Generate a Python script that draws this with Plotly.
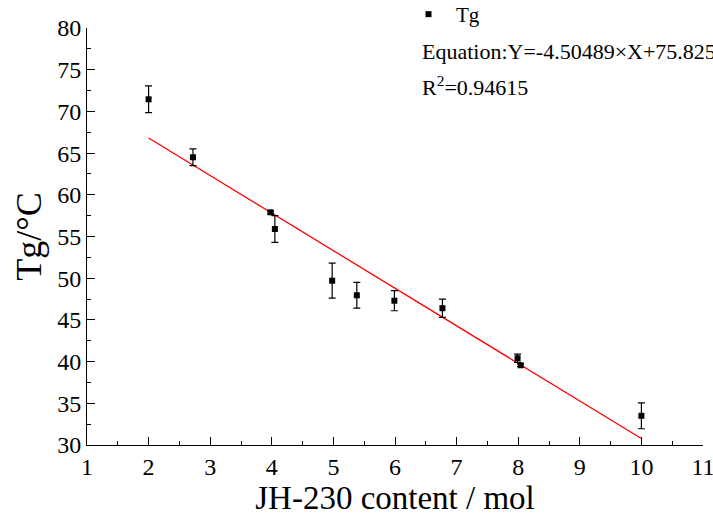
import plotly.graph_objects as go

# Data
content_mol = [2.0, 2.72, 3.98, 4.05, 4.98, 5.38, 5.99, 6.77, 7.99, 8.04, 10.0]
tg_values = [71.45, 64.5, 57.9, 55.9, 49.7, 47.95, 47.3, 46.4, 40.4, 39.56, 33.5]
tg_errors = [1.6, 1.0, 0.15, 1.6, 2.1, 1.55, 1.2, 1.1, 0.5, 0.15, 1.55]
fit_slope = -4.50489
fit_intercept = 75.825
fit_r2 = 0.94615
fit_x_range = [2.0, 10.0]
x_ticks = [1, 2, 3, 4, 5, 6, 7, 8, 9, 10, 11]
y_ticks = [30, 35, 40, 45, 50, 55, 60, 65, 70, 75, 80]

FONT = "Liberation Serif, Times New Roman, serif"

fit_y = [fit_slope * x + fit_intercept for x in fit_x_range]

fig = go.Figure()
fig.add_trace(go.Scatter(
    x=fit_x_range, y=fit_y, mode="lines",
    line=dict(color="#ff0000", width=1.3),
    showlegend=False, hoverinfo="skip",
))
fig.add_trace(go.Scatter(
    x=content_mol, y=tg_values, mode="markers", name="Tg",
    marker=dict(symbol="square", size=6, color="black"),
    error_y=dict(type="data", array=tg_errors, visible=True,
                 color="black", thickness=1.2, width=3.5),
))

fig.add_annotation(
    xref="paper", yref="paper", x=(420 - 87) / 616, y=1 + (28 - 52) / 417,
    xanchor="left", yanchor="middle", showarrow=False,
    text=f"Equation:Y={fit_slope}×X+{fit_intercept}",
    font=dict(family=FONT, size=22, color="black"),
)
fig.add_annotation(
    xref="paper", yref="paper", x=(420 - 87) / 616, y=1 + (28 - 86) / 417,
    xanchor="left", yanchor="middle", showarrow=False,
    text=f"R<sup>2</sup>={fit_r2}",
    font=dict(family=FONT, size=22, color="black"),
)

fig.update_layout(
    width=713, height=520,
    margin=dict(l=87, r=10, t=28, b=75, autoexpand=False),
    paper_bgcolor="white", plot_bgcolor="white",
    font=dict(family=FONT, color="black"),
    legend=dict(
        x=(401 - 87) / 616, y=1 + (28 + 6) / 417,
        xanchor="left", yanchor="top",
        bgcolor="rgba(0,0,0,0)",
        font=dict(family=FONT, size=21, color="black"),
        itemwidth=45,
    ),
    xaxis=dict(
        range=[1, 11], tickvals=x_ticks, ticktext=[str(v) for v in x_ticks],
        ticklabeloverflow="allow", automargin=False,
        showgrid=False, zeroline=False, showline=True, linecolor="black", linewidth=1,
        ticks="inside", ticklen=8, tickwidth=1, tickcolor="black",
        minor=dict(dtick=0.5, ticks="inside", ticklen=4, tickcolor="black", showgrid=False),
        tickfont=dict(family=FONT, size=24, color="black"),
        title=dict(text="JH-230 content / mol", font=dict(family=FONT, size=33, color="black"),
                   standoff=4),
    ),
    yaxis=dict(
        range=[30, 80], tickvals=y_ticks, ticktext=[str(v) for v in y_ticks],
        ticklabeloverflow="allow", automargin=False,
        showgrid=False, zeroline=False, showline=True, linecolor="black", linewidth=1,
        ticks="inside", ticklen=8, tickwidth=1, tickcolor="black",
        minor=dict(dtick=2.5, ticks="inside", ticklen=4, tickcolor="black", showgrid=False),
        tickfont=dict(family=FONT, size=24, color="black"),
        title=dict(text="Tg/°C", font=dict(family=FONT, size=36, color="black"),
                   standoff=4),
    ),
)

fig.write_html("out.html")
